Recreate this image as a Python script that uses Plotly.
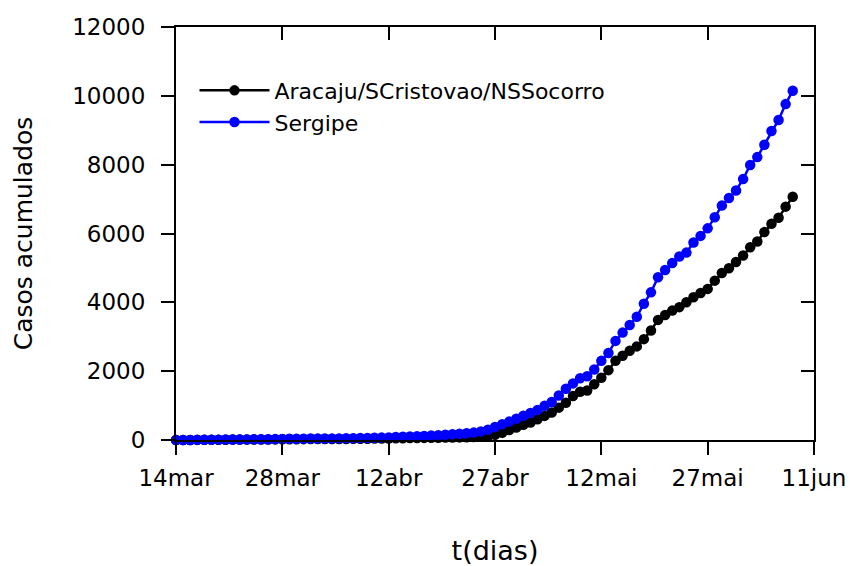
import plotly.graph_objects as go

# Day index counted from 14 March (t in days)
dias = list(range(88))

# Accumulated cases: Aracaju + São Cristóvão + N. S. do Socorro
aracaju = [
    1, 1, 1, 3, 4, 7, 7, 9, 11, 11, 12, 13, 14, 16, 17,
    19, 22, 24, 25, 27, 27, 28, 29, 30, 31, 33, 35, 37, 40, 43,
    45, 48, 52, 55, 58, 61, 64, 67, 70, 73, 76, 80, 85, 92,
    100, 150, 210, 290, 360, 440, 510, 600, 700, 800, 940, 1080, 1280, 1400,
    1440, 1620, 1810, 2030, 2300, 2450, 2590, 2720, 2930, 3180, 3490, 3630,
    3760, 3860, 4000, 4150, 4270, 4390, 4630, 4850, 4990, 5170, 5360, 5600,
    5770, 6040, 6280, 6460, 6780, 7070,
]

# Accumulated cases: whole state of Sergipe
sergipe = [
    1, 1, 2, 5, 6, 10, 10, 13, 16, 16, 17, 19, 21, 24,
    26, 30, 34, 38, 39, 42, 42, 44, 46, 47, 49, 52, 55, 59, 64, 70,
    76, 85, 94, 101, 109, 118, 128, 140, 152, 166, 180, 198, 215, 250,
    300, 380, 455, 535, 615, 705, 785, 875, 995, 1105, 1295, 1490, 1645, 1795,
    1850, 2050, 2300, 2530, 2880, 3120, 3340, 3580, 3960, 4290, 4730, 4940,
    5140, 5330, 5445, 5740, 5930, 6150, 6470, 6810, 7030, 7250, 7580, 7990,
    8220, 8580, 8980, 9300, 9760, 10150,
]

tick_dias = [0, 15, 30, 45, 60, 75, 90]
tick_datas = ["14mar", "28mar", "12abr", "27abr", "12mai", "27mai", "11jun"]
tick_casos = [0, 2000, 4000, 6000, 8000, 10000, 12000]
tick_casos_txt = [str(v) for v in tick_casos]

FONT = "DejaVu Sans"
X_RANGE = [0, 90]
Y_RANGE = [0, 12000]

fig = go.Figure()

fig.add_trace(go.Scatter(
    x=dias, y=aracaju, name="Aracaju/SCristovao/NSSocorro",
    mode="lines+markers",
    line=dict(color="#000000", width=2.5),
    marker=dict(color="#000000", size=10.5),
    cliponaxis=False,
))

# Sergipe series sits on an overlaid axis pair so it is drawn above the
# black series; the overlaid axes also carry the inward ticks on top/right.
fig.add_trace(go.Scatter(
    x=dias, y=sergipe, name="Sergipe",
    mode="lines+markers",
    line=dict(color="#0000FF", width=2.5),
    marker=dict(color="#0000FF", size=10.5),
    cliponaxis=False,
    xaxis="x2", yaxis="y2",
))

axis_font = dict(family=FONT, size=23, color="#000000")

fig.update_layout(
    width=850, height=566,
    margin=dict(l=176, r=36, t=27, b=126),
    paper_bgcolor="white", plot_bgcolor="white",
    font=dict(family=FONT, size=22, color="#000000"),
    showlegend=True,
    legend=dict(
        x=0.029, y=0.897, xanchor="left", yanchor="top",
        bgcolor="rgba(0,0,0,0)", borderwidth=0,
        font=dict(family=FONT, size=22, color="#000000"),
        itemwidth=70, tracegroupgap=0,
    ),
    xaxis=dict(
        range=X_RANGE, tickmode="array",
        tickvals=tick_dias, ticktext=tick_datas,
        showline=True, linecolor="#000000", linewidth=2, mirror=True,
        ticks="outside", ticklen=13, tickwidth=2, tickcolor="#000000",
        showgrid=False, zeroline=False, tickfont=axis_font,
        ticklabelstandoff=3,
        title=dict(text="t(dias)", font=dict(family=FONT, size=27), standoff=55),
        automargin=False,
    ),
    yaxis=dict(
        range=Y_RANGE, tickmode="array",
        tickvals=tick_casos, ticktext=tick_casos_txt,
        showline=True, linecolor="#000000", linewidth=2, mirror=True,
        ticks="outside", ticklen=13, tickwidth=2, tickcolor="#000000",
        showgrid=False, zeroline=False, tickfont=axis_font,
        ticklabelstandoff=11,
        title=dict(text="Casos acumulados", font=dict(family=FONT, size=25), standoff=32),
        automargin=False,
    ),
    xaxis2=dict(
        range=X_RANGE, overlaying="x", side="top", anchor="y2",
        tickmode="array", tickvals=tick_dias,
        ticks="inside", ticklen=13, tickwidth=2, tickcolor="#000000",
        showticklabels=False, showline=False, showgrid=False, zeroline=False,
    ),
    yaxis2=dict(
        range=Y_RANGE, overlaying="y", side="right", anchor="x2",
        tickmode="array", tickvals=tick_casos,
        ticks="inside", ticklen=13, tickwidth=2, tickcolor="#000000",
        showticklabels=False, showline=False, showgrid=False, zeroline=False,
    ),
)

fig.write_html("out.html")
